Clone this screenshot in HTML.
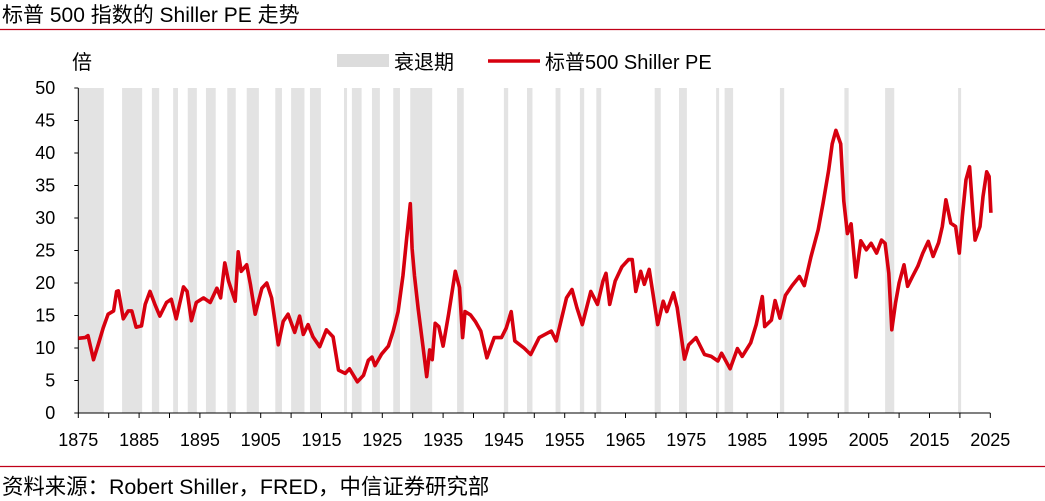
<!DOCTYPE html>
<html><head><meta charset="utf-8">
<style>
body{margin:0;background:#fff;}
svg{display:block;font-family:"Liberation Sans","Noto Sans CJK SC",sans-serif;}
</style></head>
<body>
<svg id="chart" width="1045" height="501" viewBox="0 0 1045 501">
<text x="2" y="22" font-size="21" fill="#000">标普 500 指数的 Shiller PE 走势</text>
<line x1="0" y1="29.5" x2="1045" y2="29.5" stroke="#c00018" stroke-width="1.2"/>
<text x="72" y="69" font-size="20">倍</text>
<g>
<rect x="337" y="54" width="52" height="13" fill="#dcdcdc"/>
<text x="394" y="69" font-size="20">衰退期</text>
<line x1="488" y1="61" x2="540" y2="61" stroke="#d7000f" stroke-width="3.5"/>
<text x="545" y="69" font-size="20">标普500 Shiller PE</text>
</g>
<g id="bands"></g>
<g id="axes"></g>
<path id="line" fill="none" stroke="#d7000f" stroke-width="3.6" stroke-linejoin="round"/>
<line x1="0" y1="466.5" x2="1045" y2="466.5" stroke="#c00018" stroke-width="1.2"/>
<text x="2" y="494" font-size="21.4">资料来源：Robert Shiller，FRED，中信证券研究部</text>
</svg>
<script>
const recStart=[1875.0,1882.2,1887.1,1890.6,1893.0,1896.0,1899.5,1902.7,1907.4,1910.0,1913.1,1918.7,1920.0,1923.3,1926.8,1929.6,1937.3,1945.0,1948.8,1953.5,1957.5,1960.2,1969.8,1973.8,1979.9,1981.3,1990.4,2001.0,2007.7,2019.7];
const recEnd=[1879.2,1885.5,1888.3,1891.4,1894.5,1897.6,1900.9,1904.7,1908.5,1912.2,1914.9,1919.2,1921.6,1924.6,1927.9,1933.2,1938.4,1945.7,1949.7,1954.3,1958.2,1961.0,1970.8,1975.1,1980.4,1982.7,1991.1,2001.7,2009.2,2020.2];
const years=[1875.0,1876.1,1876.6,1877.5,1878.3,1879.1,1879.9,1880.8,1881.3,1881.6,1882.4,1883.2,1883.8,1884.5,1885.4,1886.0,1886.8,1887.6,1888.4,1889.5,1890.3,1891.1,1892.3,1892.9,1893.6,1894.4,1895.6,1896.7,1897.8,1898.4,1899.1,1899.7,1900.8,1901.3,1901.8,1902.7,1903.3,1904.1,1905.2,1906.0,1906.8,1907.9,1908.7,1909.5,1910.6,1911.4,1912.0,1912.8,1913.6,1914.7,1915.8,1916.9,1917.8,1918.9,1919.6,1920.9,1921.9,1922.7,1923.3,1923.8,1924.9,1926.0,1926.8,1927.6,1928.4,1929.0,1929.6,1929.9,1930.3,1930.9,1931.7,1932.3,1932.8,1933.2,1933.7,1934.3,1935.0,1935.9,1937.0,1937.7,1938.2,1938.6,1939.5,1940.3,1941.2,1942.2,1943.4,1944.6,1945.4,1946.2,1946.8,1948.3,1949.4,1950.8,1952.8,1953.6,1955.3,1956.2,1957.0,1957.9,1959.3,1960.4,1961.3,1961.8,1962.4,1963.3,1964.4,1965.5,1966.1,1966.7,1967.5,1968.1,1968.9,1970.3,1971.2,1971.8,1972.9,1973.5,1974.7,1975.4,1976.6,1978.0,1979.1,1980.2,1980.8,1982.2,1983.4,1984.2,1985.6,1986.5,1987.5,1987.9,1989.0,1989.6,1990.4,1991.3,1992.4,1993.6,1994.4,1995.5,1996.7,1997.5,1998.4,1999.0,1999.6,2000.4,2000.9,2001.5,2002.1,2002.9,2003.7,2004.6,2005.4,2006.3,2007.1,2007.7,2008.3,2008.8,2009.4,2010.0,2010.8,2011.4,2012.2,2013.1,2013.9,2014.8,2015.6,2016.5,2017.1,2017.7,2018.5,2019.3,2019.9,2020.4,2021.0,2021.6,2022.1,2022.5,2023.3,2023.8,2024.4,2024.8,2025.1];
const peValues=[11.5,11.6,11.9,8.2,10.6,13.1,15.2,15.7,18.7,18.8,14.5,15.7,15.7,13.2,13.4,16.7,18.7,16.7,14.9,17.0,17.5,14.5,19.4,18.7,14.2,17.0,17.7,17.0,19.2,17.7,23.1,20.3,17.2,24.8,21.8,22.8,19.8,15.2,19.2,20.0,17.7,10.5,14.1,15.2,12.4,14.9,12.1,13.6,11.7,10.2,12.8,11.7,6.6,6.1,6.8,4.8,5.8,8.1,8.6,7.3,9.1,10.3,12.6,15.6,21.2,26.8,32.2,25.3,21.1,16.0,10.2,5.6,9.7,8.2,13.8,13.3,10.3,15.2,21.8,19.3,11.6,15.6,15.1,14.1,12.6,8.5,11.6,11.6,13.1,15.6,11.1,10.0,9.0,11.6,12.6,11.1,17.7,19.0,16.2,13.6,18.7,16.7,20.3,21.5,16.7,20.3,22.5,23.6,23.6,18.7,21.8,19.8,22.1,13.6,17.2,15.6,18.5,16.2,8.3,10.5,11.6,9.0,8.7,8.0,9.2,6.8,9.9,8.7,10.8,13.6,17.9,13.3,14.3,17.3,14.6,18.1,19.6,21.0,19.6,24.0,28.2,32.3,37.3,41.4,43.5,41.4,32.6,27.6,29.1,20.9,26.5,25.1,26.1,24.6,26.6,26.1,21.5,12.8,16.9,20.0,22.8,19.5,21.0,22.6,24.6,26.4,24.1,26.2,28.7,32.8,29.2,28.7,24.6,30.2,35.9,37.9,31.2,26.6,28.7,33.3,37.1,36.4,30.8];
const yTicks=[0,5,10,15,20,25,30,35,40,45,50];
const xTicks=[1875,1885,1895,1905,1915,1925,1935,1945,1955,1965,1975,1985,1995,2005,2015,2025];

const X0=78.3,PX=6.08,Y0=413,PY=6.5;
function xs(y){return X0+(y-1875)*PX;}
function ys(v){return Y0-v*PY;}
const NS='http://www.w3.org/2000/svg';
const bands=document.getElementById('bands');
for(let i=0;i<recStart.length;i++){
  const r=document.createElementNS(NS,'rect');
  r.setAttribute('x',xs(recStart[i]));r.setAttribute('y',ys(50));
  r.setAttribute('width',Math.max(1.5,xs(recEnd[i])-xs(recStart[i])));
  r.setAttribute('height',ys(0)-ys(50));r.setAttribute('fill','#e3e3e3');
  
  
  bands.appendChild(r);
}
const ax=document.getElementById('axes');
function mk(tag,attrs){const e=document.createElementNS(NS,tag);for(const k in attrs)e.setAttribute(k,attrs[k]);ax.appendChild(e);return e;}
const yl=mk('line',{x1:X0,y1:ys(50),x2:X0,y2:ys(0),stroke:'#000','stroke-width':1});


const xl=mk('line',{x1:X0,y1:ys(0),x2:xs(2025),y2:ys(0),stroke:'#000','stroke-width':1});


yTicks.forEach(v=>{
  const t=mk('line',{x1:X0-4,y1:ys(v),x2:X0,y2:ys(v),stroke:'#000'});
  
  
  const l=mk('text',{x:X0-23,y:ys(v)+6,'font-size':18,'text-anchor':'end'});
  l.textContent=v;
  
  
});
for(let yr=1875;yr<=2025;yr+=5){
  const t=mk('line',{x1:xs(yr),y1:ys(0),x2:xs(yr),y2:ys(0)+5,stroke:'#000'});
  
  
}
xTicks.forEach(yr=>{
  const l=mk('text',{x:xs(yr),y:446,'font-size':18,'text-anchor':'middle'});
  l.textContent=yr;
  
  
});
let d='';
for(let i=0;i<years.length;i++){d+=(i?'L':'M')+xs(years[i]).toFixed(1)+','+ys(peValues[i]).toFixed(1);}
document.getElementById('line').setAttribute('d',d);
</script>
</body></html>
